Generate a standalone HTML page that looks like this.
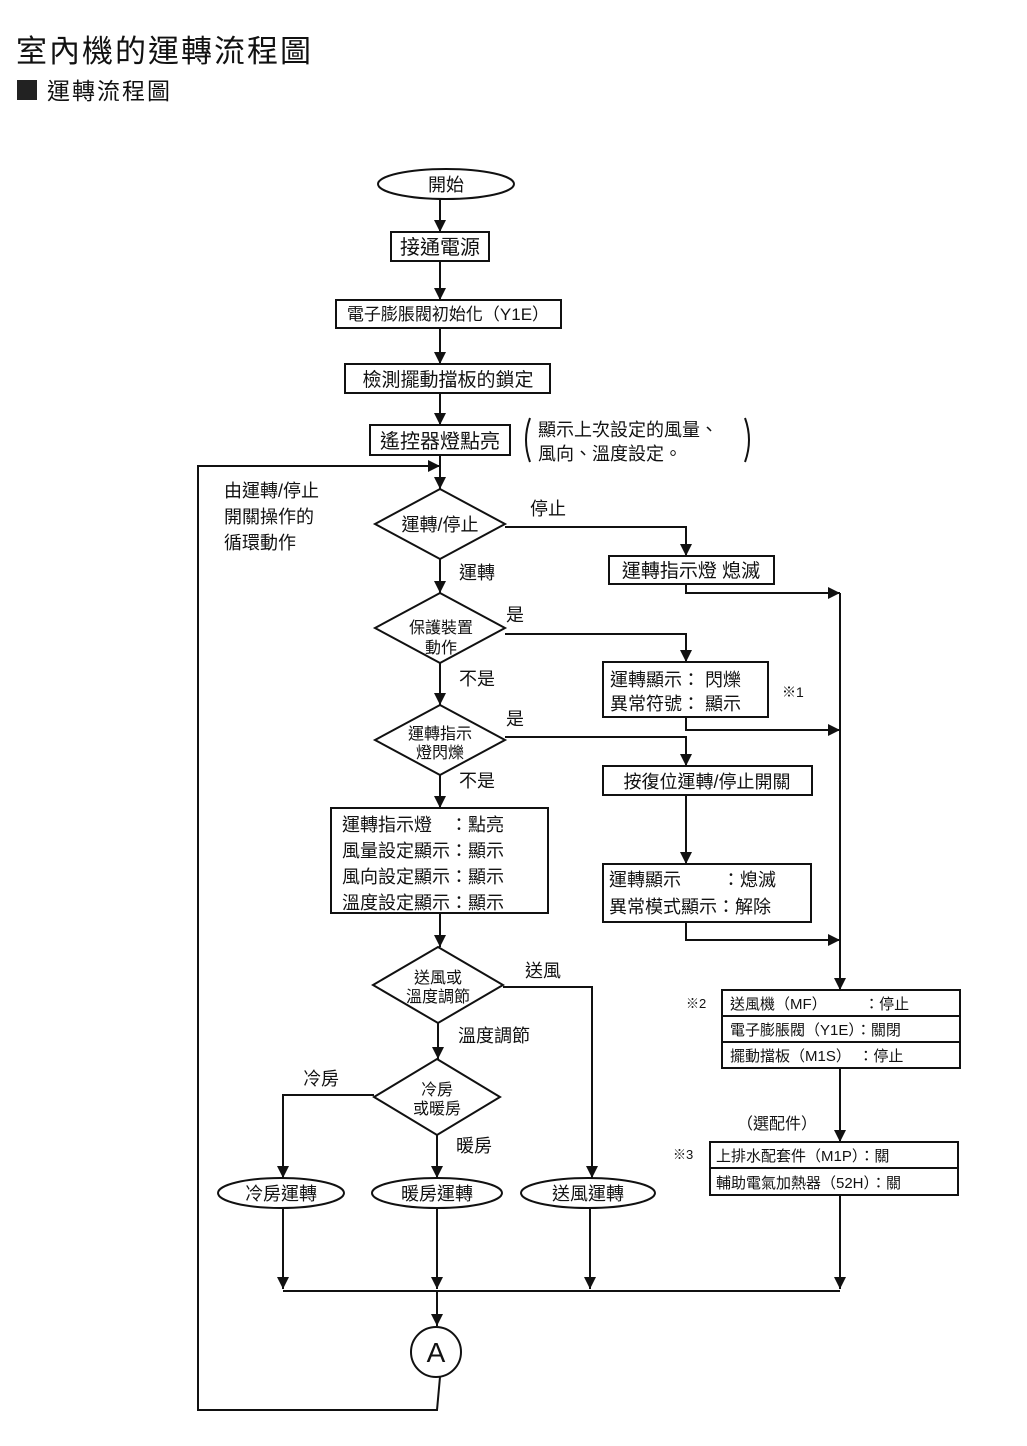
<!DOCTYPE html>
<html><head><meta charset="utf-8"><style>
html,body{margin:0;padding:0;background:#fff;}
svg{display:block;}
text{font-family:"Liberation Sans","Noto Sans CJK TC",sans-serif;fill:#111;}
</style></head><body>
<svg width="1027" height="1446" viewBox="0 0 1027 1446" xmlns="http://www.w3.org/2000/svg">
<defs>
<marker id="a" viewBox="0 0 10 10" refX="10" refY="5" markerWidth="12" markerHeight="14" markerUnits="userSpaceOnUse" orient="auto">
<path d="M0,0 L10,5 L0,10 z" fill="#111"/></marker>
</defs>
<rect width="1027" height="1446" fill="#fff"/>
<text x="16" y="62" font-size="31" letter-spacing="2">室內機的運轉流程圖</text>
<rect x="17" y="80" width="20" height="20" fill="#222"/>
<text x="47" y="99" font-size="23" letter-spacing="2">運轉流程圖</text>

<g stroke="#111" stroke-width="2" fill="none">
<ellipse cx="446" cy="184" rx="68" ry="15"/>
<line x1="440" y1="199" x2="440" y2="232" marker-end="url(#a)"/>
<rect x="391" y="232" width="98" height="29"/>
<line x1="440" y1="261" x2="440" y2="300" marker-end="url(#a)"/>
<rect x="336" y="300" width="225" height="28"/>
<line x1="440" y1="328" x2="440" y2="364" marker-end="url(#a)"/>
<rect x="345" y="364" width="205" height="29"/>
<line x1="440" y1="393" x2="440" y2="425" marker-end="url(#a)"/>
<rect x="370" y="425" width="140" height="30"/>
<line x1="440" y1="455" x2="440" y2="489" marker-end="url(#a)"/>
<polyline points="440,1377 437,1410 198,1410 198,466 440,466" marker-end="url(#a)"/>
<polygon points="440,489 505,524 440,559 375,524"/>
<polyline points="505,527 686,527 686,556" marker-end="url(#a)"/>
<rect x="609" y="556" width="165" height="28"/>
<polyline points="686,584 686,593 840,593" marker-end="url(#a)"/>
<line x1="840" y1="593" x2="840" y2="990" marker-end="url(#a)"/>
<line x1="440" y1="559" x2="440" y2="593" marker-end="url(#a)"/>
<polygon points="440,593 505,628 440,663 375,628"/>
<polyline points="505,634 686,634 686,662" marker-end="url(#a)"/>
<rect x="603" y="662" width="165" height="55"/>
<polyline points="686,717 686,730 840,730" marker-end="url(#a)"/>
<line x1="440" y1="663" x2="440" y2="705" marker-end="url(#a)"/>
<polygon points="440,705 505,740 440,775 375,740"/>
<polyline points="505,737 686,737 686,766" marker-end="url(#a)"/>
<rect x="603" y="766" width="209" height="29"/>
<line x1="686" y1="795" x2="686" y2="864" marker-end="url(#a)"/>
<rect x="603" y="864" width="208" height="58"/>
<polyline points="686,922 686,940 840,940" marker-end="url(#a)"/>
<line x1="440" y1="775" x2="440" y2="808" marker-end="url(#a)"/>
<rect x="331" y="808" width="217" height="105"/>
<line x1="440" y1="913" x2="440" y2="947" marker-end="url(#a)"/>
<polygon points="438,947 503,985 438,1023 373,985"/>
<polyline points="503,987 592,987 592,1178" marker-end="url(#a)"/>
<line x1="438" y1="1023" x2="438" y2="1059" marker-end="url(#a)"/>
<polygon points="437,1059 500,1097 437,1135 374,1097"/>
<polyline points="374,1095 283,1095 283,1178" marker-end="url(#a)"/>
<line x1="437" y1="1135" x2="437" y2="1178" marker-end="url(#a)"/>
<ellipse cx="281" cy="1193" rx="63" ry="15"/>
<ellipse cx="437" cy="1193" rx="65" ry="15"/>
<ellipse cx="588" cy="1193" rx="67" ry="15"/>
<line x1="283" y1="1208" x2="283" y2="1289" marker-end="url(#a)"/>
<line x1="437" y1="1208" x2="437" y2="1289" marker-end="url(#a)"/>
<line x1="590" y1="1208" x2="590" y2="1289" marker-end="url(#a)"/>
<line x1="283" y1="1291" x2="840" y2="1291"/>
<line x1="437" y1="1291" x2="437" y2="1326" marker-end="url(#a)"/>
<circle cx="436" cy="1352" r="25"/>
<rect x="722" y="990" width="238" height="78"/>
<line x1="722" y1="1016" x2="960" y2="1016"/>
<line x1="722" y1="1042" x2="960" y2="1042"/>
<line x1="840" y1="1068" x2="840" y2="1142" marker-end="url(#a)"/>
<rect x="710" y="1142" width="248" height="53"/>
<line x1="710" y1="1168" x2="958" y2="1168"/>
<line x1="840" y1="1195" x2="840" y2="1289" marker-end="url(#a)"/>
<path d="M530,418 Q522,440 530,462"/>
<path d="M745,418 Q753,440 745,462"/>
</g>

<g font-size="18">
<text x="446" y="191" text-anchor="middle">開始</text>
<text x="440" y="254" text-anchor="middle" font-size="20">接通電源</text>
<text x="448" y="320" text-anchor="middle" font-size="17">電子膨脹閥初始化（Y1E）</text>
<text x="448" y="386" text-anchor="middle" font-size="19">檢測擺動擋板的鎖定</text>
<text x="440" y="448" text-anchor="middle" font-size="20">遙控器燈點亮</text>
<text x="538" y="436" font-size="18">顯示上次設定的風量、</text>
<text x="538" y="460" font-size="18">風向、溫度設定。</text>
<text x="224" y="497">由運轉/停止</text>
<text x="224" y="523">開關操作的</text>
<text x="224" y="549">循環動作</text>
<text x="440" y="531" text-anchor="middle">運轉/停止</text>
<text x="530" y="515">停止</text>
<text x="459" y="579">運轉</text>
<text x="691" y="577" text-anchor="middle" font-size="19">運轉指示燈 熄滅</text>
<text x="441" y="633" text-anchor="middle" font-size="16">保護裝置</text>
<text x="441" y="653" text-anchor="middle" font-size="16">動作</text>
<text x="506" y="621">是</text>
<text x="459" y="685">不是</text>
<text x="610" y="686">運轉顯示： 閃爍</text>
<text x="610" y="710">異常符號： 顯示</text>
<text x="782" y="697" font-size="14">※1</text>
<text x="440" y="739" text-anchor="middle" font-size="16">運轉指示</text>
<text x="440" y="758" text-anchor="middle" font-size="16">燈閃爍</text>
<text x="506" y="725">是</text>
<text x="459" y="787">不是</text>
<text x="707" y="788" text-anchor="middle">按復位運轉/停止開關</text>
<text x="609" y="886">運轉顯示 　　：熄滅</text>
<text x="609" y="913">異常模式顯示：解除</text>
<text x="342" y="831">運轉指示燈　：點亮</text>
<text x="342" y="857">風量設定顯示：顯示</text>
<text x="342" y="883">風向設定顯示：顯示</text>
<text x="342" y="909">溫度設定顯示：顯示</text>
<text x="438" y="983" text-anchor="middle" font-size="16">送風或</text>
<text x="438" y="1002" text-anchor="middle" font-size="16">溫度調節</text>
<text x="525" y="977">送風</text>
<text x="458" y="1042">溫度調節</text>
<text x="437" y="1095" text-anchor="middle" font-size="16">冷房</text>
<text x="437" y="1114" text-anchor="middle" font-size="16">或暖房</text>
<text x="303" y="1085">冷房</text>
<text x="456" y="1152">暖房</text>
<text x="281" y="1200" text-anchor="middle">冷房運轉</text>
<text x="437" y="1200" text-anchor="middle">暖房運轉</text>
<text x="588" y="1200" text-anchor="middle">送風運轉</text>
<text x="436" y="1362" text-anchor="middle" font-size="28" font-family="Liberation Serif, serif">A</text>
<text x="686" y="1008" font-size="13">※2</text>
<text x="730" y="1009" font-size="15">送風機（MF）　　　：停止</text>
<text x="730" y="1035" font-size="15">電子膨脹閥（Y1E）：關閉</text>
<text x="730" y="1061" font-size="15">擺動擋板（M1S）　：停止</text>
<text x="737" y="1129" font-size="16">（選配件）</text>
<text x="673" y="1159" font-size="13">※3</text>
<text x="716" y="1161" font-size="15">上排水配套件（M1P）：關</text>
<text x="716" y="1188" font-size="15">輔助電氣加熱器（52H）：關</text>
</g>
</svg>
</body></html>
